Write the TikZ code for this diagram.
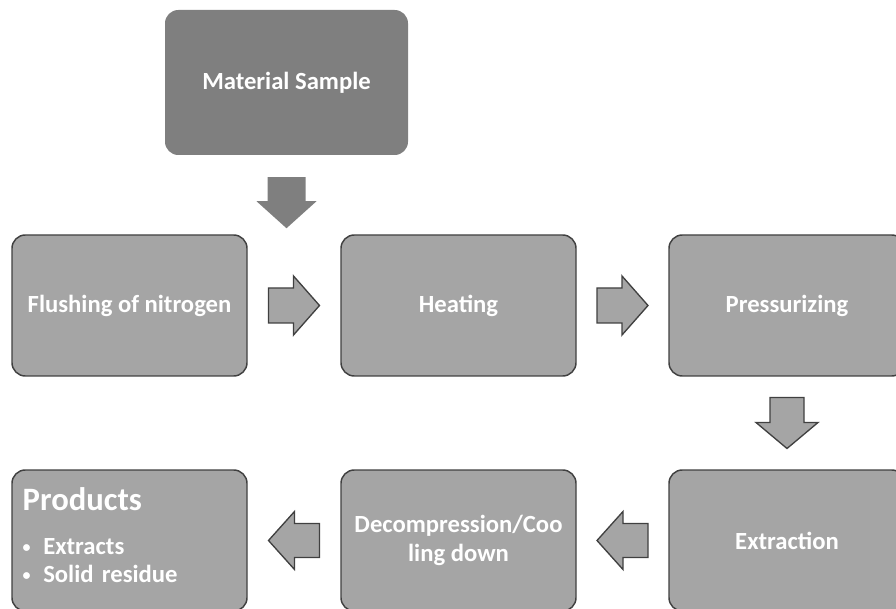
\documentclass[tikz,border=0pt]{standalone}
\usepackage{fontspec}
\setmainfont{Carlito}
\usetikzlibrary{calc}
\definecolor{samplegray}{HTML}{7F7F7F}
\definecolor{boxgray}{HTML}{A5A5A5}
\definecolor{edgegray}{HTML}{404040}
\newcommand{\prodbullet}{\raisebox{1.5pt}{\fontsize{12}{12}\selectfont\textbullet}\hspace{9.5pt}}
\tikzset{
  stepbox/.style={rectangle, rounded corners=10pt, fill=boxgray, draw=edgegray,
    line width=1.1pt, text=white, font=\bfseries\fontsize{18.5}{22}\selectfont,
    minimum width=176.25pt, minimum height=105.75pt, align=center},
  blockarrow/.style={fill=boxgray, draw=edgegray, line width=1pt, line join=miter},
  samplearrow/.style={fill=samplegray, draw=none},
}
\begin{document}
\begin{tikzpicture}[x=0.75pt,y=-0.75pt]
  \useasboundingbox (0,0) rectangle (896,609);
  % boxes
  \node[stepbox, fill=samplegray, draw=none, minimum width=182.25pt, minimum height=108.75pt] (sample) at (286.5,82.5) {Material Sample};
  \node[stepbox] (flush) at (129.5,305.5) {Flushing of nitrogen};
  \node[stepbox] (heat) at (458.5,305.5) {Heating};
  \node[stepbox, minimum width=177pt] (press) at (787,305.5) {Pressurizing};
  \node[stepbox, minimum width=177pt] (extr) at (787,540.5) {Extraction};
  \node[stepbox] (decomp) at (458.5,540.5) {Decompression/Coo\\ling down};
  \node[stepbox, align=left, text width=160.25pt, inner xsep=8pt, font=\bfseries\fontsize{18.5}{21}\selectfont] (prod) at (129.5,540.5)
    {{\fontsize{24.5}{28}\selectfont Products}\\[12pt]\prodbullet Extracts\\\prodbullet Solid residue\rule[-7.5pt]{0pt}{0pt}};
  % arrows
  \coordinate (a0) at ($(sample.south)+(0,47)$);
  \coordinate (a1) at ($(flush.east)!0.5!(heat.west)$);
  \coordinate (a2) at ($(heat.east)!0.5!(press.west)$);
  \coordinate (a3) at ($(press.south)!0.5!(extr.north)$);
  \coordinate (a4) at ($(extr.west)!0.5!(decomp.east)$);
  \coordinate (a5) at ($(decomp.west)!0.5!(prod.east)$);
  \draw[samplearrow] ($(a0)+(-19,-25.5)$) -- ++(38,0) -- ++(0,24) -- ++(11,0) -- ++(-30,27) -- ++(-30,-27) -- ++(11,0) -- cycle;
  \draw[blockarrow] ($(a1)+(-25.5,-17.5)$) -- ++(25,0) -- ++(0,-12) -- ++(26,29.5) -- ++(-26,29.5) -- ++(0,-12) -- ++(-25,0) -- cycle;
  \draw[blockarrow] ($(a2)+(-25.5,-17.5)$) -- ++(25,0) -- ++(0,-12) -- ++(26,29.5) -- ++(-26,29.5) -- ++(0,-12) -- ++(-25,0) -- cycle;
  \draw[blockarrow] ($(a3)+(-17,-25.5)$) -- ++(34,0) -- ++(0,25) -- ++(14,0) -- ++(-31,26) -- ++(-31,-26) -- ++(14,0) -- cycle;
  \draw[blockarrow] ($(a4)+(25.5,-17)$) -- ++(-25,0) -- ++(0,-12) -- ++(-26,29) -- ++(26,29) -- ++(0,-12) -- ++(25,0) -- cycle;
  \draw[blockarrow] ($(a5)+(25.5,-17)$) -- ++(-25,0) -- ++(0,-12) -- ++(-26,29) -- ++(26,29) -- ++(0,-12) -- ++(25,0) -- cycle;
\end{tikzpicture}
\end{document}
